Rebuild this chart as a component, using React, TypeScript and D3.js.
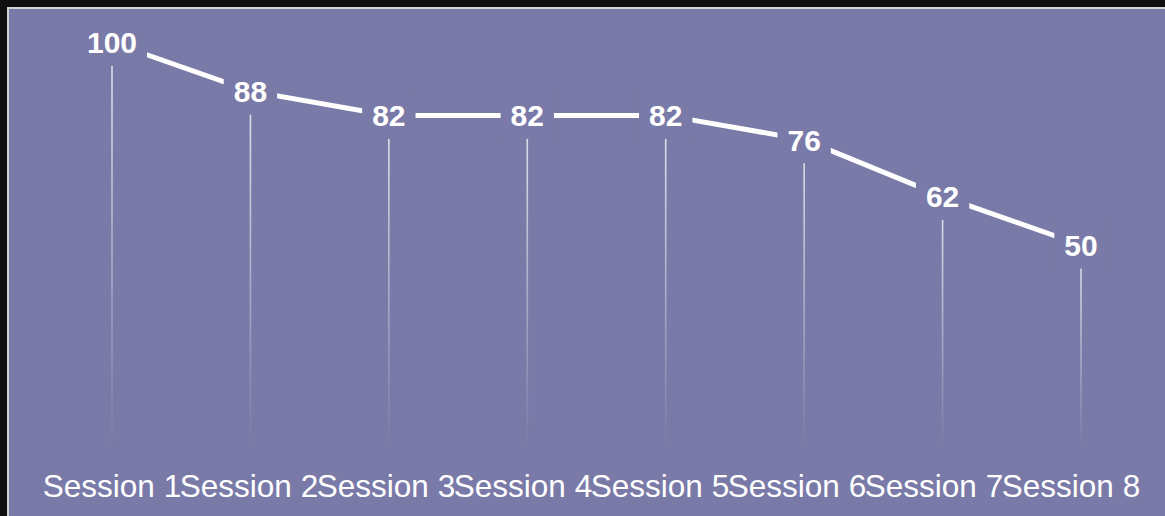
import React from "react";
import * as d3 from "d3";

// Sessions and their scores
const sessions = ["Session 1", "Session 2", "Session 3", "Session 4", "Session 5", "Session 6", "Session 7", "Session 8"];
const scores = [100, 88, 82, 82, 82, 76, 62, 50];

const W = 1165;
const H = 516;
const PANEL = "#7a7aa8";
const FONT = "'Liberation Sans', Arial, Helvetica, sans-serif";
const VALUE_SIZE = 30;
const AXIS_SIZE = 31.5;

export default function App() {
  const x = d3.scalePoint<string>().domain(sessions).range([112, 1081]);
  // category captions sit in a slightly tighter row than the points
  const xLabel = d3.scalePoint<string>().domain(sessions).range([112, 1071]);
  const y = d3.scaleLinear().domain([0, 100]).range([447.5, 42.5]);

  const pts = sessions.map((s, i) => ({ s, v: scores[i], px: x(s) as number, py: y(scores[i]) }));
  const line = d3.line<typeof pts[number]>().x((d) => d.px).y((d) => d.py);
  const baseY = y(0);

  return (
    <div style={{ position: "fixed", left: 0, top: 0, width: W, height: H, overflow: "hidden", background: "#101010" }}>
      <svg width={W} height={H} style={{ display: "block" }}>
        <defs>
          <linearGradient id="drop" x1="0" y1="0" x2="0" y2="1">
            <stop offset="0%" stopColor="#ffffff" stopOpacity={0.8} />
            <stop offset="100%" stopColor="#ffffff" stopOpacity={0} />
          </linearGradient>
        </defs>
        <rect x={8} y={8} width={W + 20} height={H + 20} fill={PANEL} stroke="#d4d4d4" strokeWidth={2} />

        {/* drop lines from each point to the base */}
        {pts.map((d) => (
          <rect key={"drop" + d.s} x={d.px - 0.8} y={d.py} width={1.6} height={baseY - d.py} fill="url(#drop)" />
        ))}

        <path d={line(pts) || ""} fill="none" stroke="#ffffff" strokeWidth={5} />

        {/* value labels with a knockout behind them */}
        {pts.map((d) => {
          const label = String(d.v);
          const half = (label.length * 0.556 * VALUE_SIZE) / 2 + 10;
          return (
            <g key={"lab" + d.s}>
              <rect x={d.px - half} y={d.py - 23.5} width={half * 2} height={47} fill={PANEL} />
              <text
                x={d.px}
                y={d.py + 10.8}
                textAnchor="middle"
                fill="#ffffff"
                fontFamily={FONT}
                fontWeight="bold"
                fontSize={VALUE_SIZE}
              >
                {label}
              </text>
            </g>
          );
        })}

        {/* category labels */}
        {sessions.map((s) => (
          <text key={"ax" + s} x={xLabel(s) as number} y={497} textAnchor="middle" fill="#ffffff" fontFamily={FONT} fontSize={AXIS_SIZE}>
            {s}
          </text>
        ))}
      </svg>
    </div>
  );
}
